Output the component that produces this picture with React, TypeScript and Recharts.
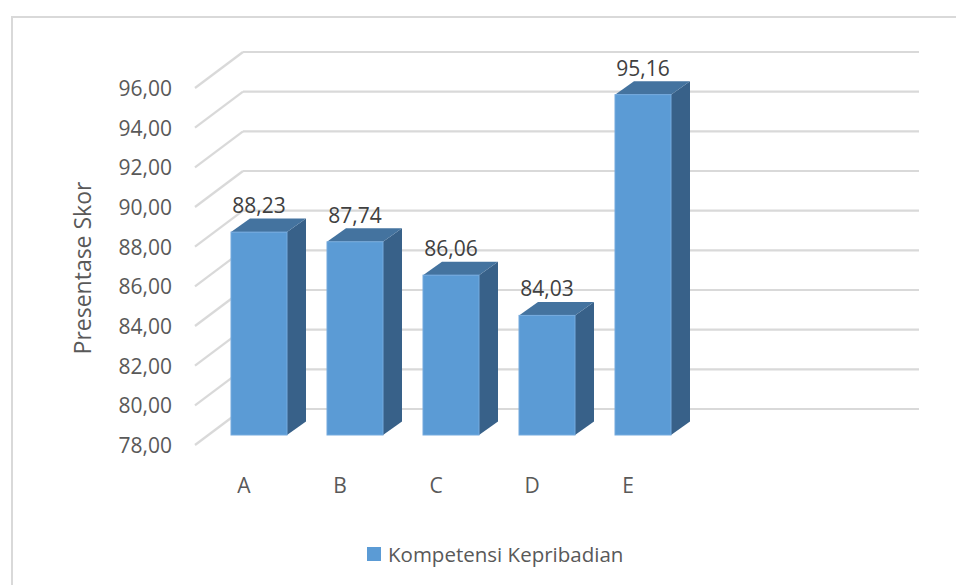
import { BarChart, Bar, XAxis, YAxis, CartesianGrid, LabelList } from 'recharts';

const categories = ['A', 'B', 'C', 'D', 'E'];
const scores = [88.23, 87.74, 86.06, 84.03, 95.16];
const yTicks = [78, 80, 82, 84, 86, 88, 90, 92, 94, 96];

const data = categories.map((name, i) => ({ name, score: scores[i] }));

// 3D offsets: bar depth, and the floor/back-wall offsets relative to the bar plane
const DEPTH_X = 19;
const DEPTH_Y = 13.5;
const FRONT_DY = 10;
const BACK_DY = -26;
const WALL_LEFT = 195;
const WALL_BACK = 243;
const WALL_RIGHT = 919;

const FONT = '"Open Sans", "Noto Sans", sans-serif';
const fmt = (v: number) => v.toFixed(2).replace('.', ',');

const Bar3D = (props: any) => {
  const { x, y, width, height } = props;
  const r = x + width;
  const b = y + height;
  return (
    <g>
      <polygon
        points={`${r},${y} ${r + DEPTH_X},${y - DEPTH_Y} ${r + DEPTH_X},${b - DEPTH_Y} ${r},${b}`}
        fill="#386189"
      />
      <polygon
        points={`${x},${y} ${x + DEPTH_X},${y - DEPTH_Y} ${r + DEPTH_X},${y - DEPTH_Y} ${r},${y}`}
        fill="#44739f"
      />
      <rect x={x} y={y} width={width} height={height} fill="#5b9bd5" stroke="#75aade" strokeWidth={1} />
    </g>
  );
};

const GridLine = (props: any) => {
  const y = props.y1;
  return (
    <g key={props.key}>
      <line x1={WALL_LEFT} y1={y + FRONT_DY} x2={WALL_BACK} y2={y + BACK_DY} stroke="#d9d9d9" strokeWidth={2.2} />
      <line x1={WALL_BACK} y1={y + BACK_DY} x2={WALL_RIGHT} y2={y + BACK_DY} stroke="#d9d9d9" strokeWidth={2.2} />
    </g>
  );
};

const YTick = (props: any) => (
  <text x={172} y={props.y + FRONT_DY} textAnchor="end" dominantBaseline="central" fontSize={21} fontFamily={FONT} fill="#595959">
    {fmt(props.payload.value)}
  </text>
);

const XTick = (props: any) => (
  <text x={props.x - 15} y={485} textAnchor="middle" dominantBaseline="central" fontSize={21} fontFamily={FONT} fill="#595959">
    {props.payload.value}
  </text>
);

const ValueLabel = (props: any) => (
  <text x={props.x + props.width / 2} y={props.y - 19} textAnchor="middle" fontSize={21} fontFamily={FONT} fill="#404040">
    {fmt(props.value)}
  </text>
);

export default function App() {
  return (
    <div style={{ position: 'absolute', left: 0, top: 0, width: 956, height: 585, background: '#fff', overflow: 'hidden' }}>
      <div
        style={{
          position: 'absolute',
          left: 11,
          top: 16,
          width: 960,
          height: 600,
          borderLeft: '2px solid #d9d9d9',
          borderTop: '2px solid #d9d9d9',
        }}
      />
      <div style={{ position: 'absolute', left: 0, top: 0 }}>
        <BarChart width={956} height={585} data={data} margin={{ top: 78, right: 265, bottom: 120, left: 0 }}>
          <CartesianGrid vertical={false} horizontal={GridLine} />
          <XAxis dataKey="name" axisLine={false} tickLine={false} height={30} tick={XTick} />
          <YAxis
            domain={[78, 96]}
            ticks={yTicks}
            width={211}
            axisLine={false}
            tickLine={false}
            tick={YTick}
            label={{
              content: () => (
                <text
                  x={82}
                  y={268}
                  transform="rotate(-90 82 268)"
                  textAnchor="middle"
                  dominantBaseline="central"
                  fontSize={23}
                  fontFamily={FONT}
                  fill="#595959"
                >
                  Presentase Skor
                </text>
              ),
            }}
          />
          <Bar dataKey="score" barSize={56} shape={Bar3D} isAnimationActive={false}>
            <LabelList dataKey="score" content={ValueLabel} />
          </Bar>
        </BarChart>
      </div>
      <div
        style={{
          position: 'absolute',
          left: 367,
          top: 540,
          display: 'flex',
          alignItems: 'center',
          fontFamily: FONT,
          fontSize: 20.5,
          color: '#595959',
        }}
      >
        <span style={{ display: 'inline-block', width: 14, height: 14, background: '#5b9bd5', marginRight: 7 }} />
        <span>Kompetensi Kepribadian</span>
      </div>
    </div>
  );
}
